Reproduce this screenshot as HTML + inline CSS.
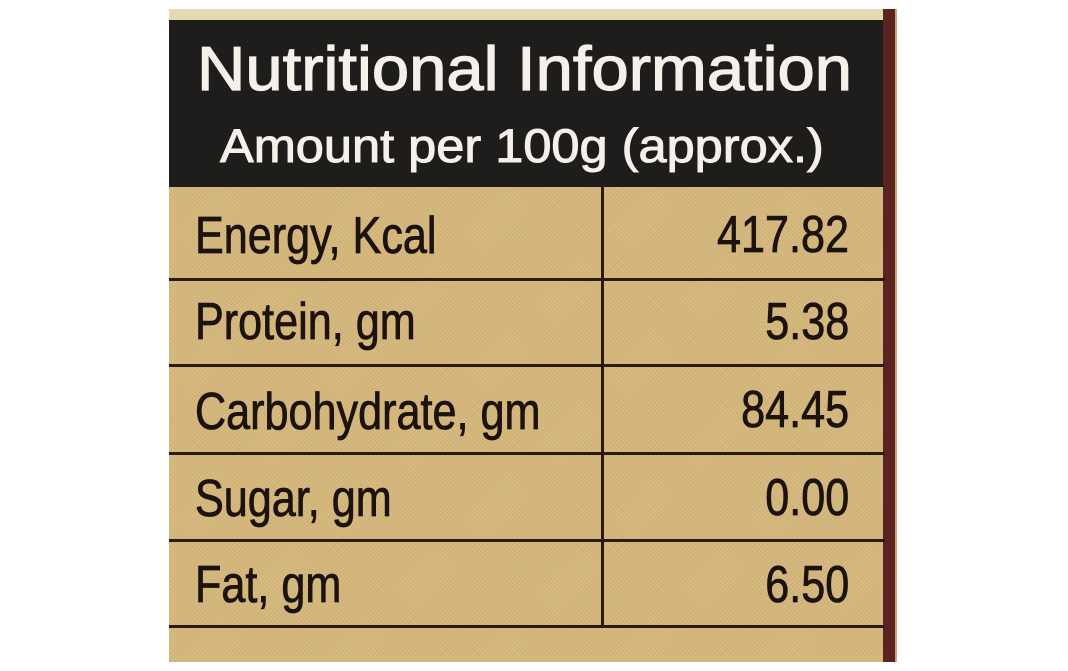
<!DOCTYPE html>
<html>
<head>
<meta charset="utf-8">
<style>
  html,body{margin:0;padding:0;background:#ffffff;}
  body{width:1068px;height:671px;position:relative;overflow:hidden;font-family:"Liberation Sans",Arial,sans-serif;}
  .label{position:absolute;left:169px;top:9px;width:728px;height:653px;overflow:hidden;
    background-color:#d4b67a;
    background-image:
      repeating-linear-gradient(45deg, rgba(255,255,255,0.10) 0 1px, rgba(0,0,0,0) 1px 3px),
      repeating-linear-gradient(-45deg, rgba(120,90,40,0.08) 0 1px, rgba(0,0,0,0) 1px 3px);}
  .topstrip{position:absolute;left:0;top:0;width:714px;height:11px;background:#e3d9b3;}
  .header{position:absolute;left:0;top:11px;width:714px;height:166px;background:#1f1d1b;}
  .redstrip{position:absolute;left:714px;top:0;width:12px;height:653px;background:#5b2420;}
  .edge{position:absolute;left:726px;top:0;width:2px;height:653px;background:#c9a96e;}
  .hl{position:absolute;left:0;width:716px;height:3px;background:#2a1a14;}
  .vl{position:absolute;left:432px;top:177px;width:3px;height:441px;background:#2a1a14;}
  .t{position:absolute;white-space:nowrap;line-height:1;}
  .title{color:#f3f1ea;font-size:62px;left:28px;transform-origin:0 0;transform:scaleX(1.08);-webkit-text-stroke:1.2px #f3f1ea;}
  .sub{color:#f3f1ea;font-size:47px;left:51px;transform-origin:0 0;transform:scaleX(1.075);-webkit-text-stroke:1px #f3f1ea;}
  .lbl{color:#1c130f;font-size:52px;left:26px;transform-origin:0 0;transform:scaleX(0.83);-webkit-text-stroke:0.8px #1c130f;}
  .val{color:#1c130f;font-size:52px;right:48px;transform-origin:100% 0;transform:scaleX(0.83);text-align:right;-webkit-text-stroke:0.8px #1c130f;}
</style>
</head>
<body>
<div class="label">
  <div class="topstrip"></div>
  <div class="header"></div>
  <div class="redstrip"></div>
  <div class="edge"></div>

  <div class="t title" style="top:30px;">Nutritional Information</div>
  <div class="t sub" style="top:113px;">Amount per 100g (approx.)</div>

  <div class="hl" style="top:176px;height:2px;background:#1f1d1b;"></div>
  <div class="hl" style="top:269px;"></div>
  <div class="hl" style="top:355px;"></div>
  <div class="hl" style="top:443px;"></div>
  <div class="hl" style="top:530px;"></div>
  <div class="hl" style="top:616px;"></div>
  <div class="vl"></div>

  <div class="t lbl" style="top:201px;">Energy, Kcal</div>
  <div class="t val" style="top:200px;">417.82</div>

  <div class="t lbl" style="top:287px;">Protein, gm</div>
  <div class="t val" style="top:287px;">5.38</div>

  <div class="t lbl" style="top:377px;">Carbohydrate, gm</div>
  <div class="t val" style="top:375px;">84.45</div>

  <div class="t lbl" style="top:464px;">Sugar, gm</div>
  <div class="t val" style="top:463px;">0.00</div>

  <div class="t lbl" style="top:550px;">Fat, gm</div>
  <div class="t val" style="top:550px;">6.50</div>
</div>
</body>
</html>
